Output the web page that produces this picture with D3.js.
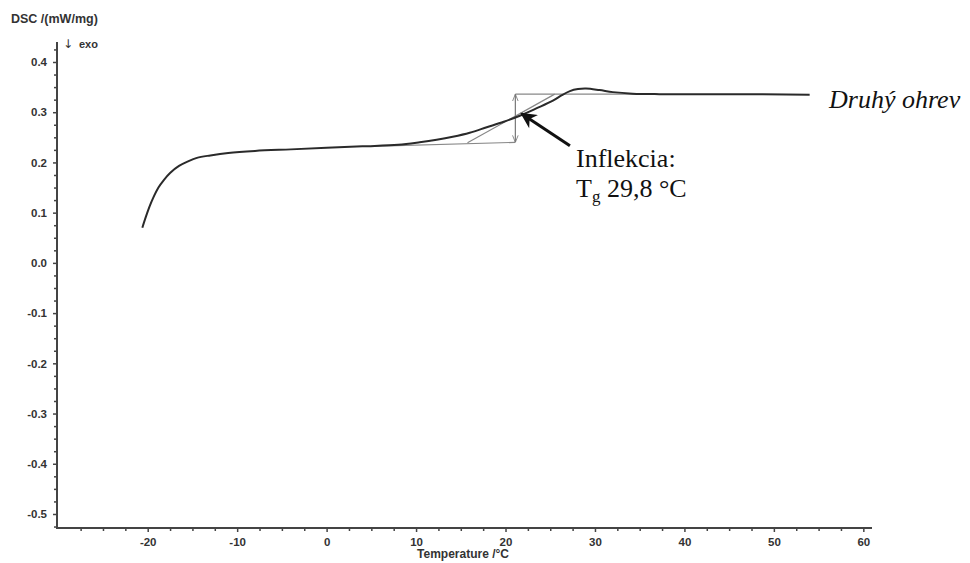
<!DOCTYPE html>
<html><head><meta charset="utf-8">
<script src="https://cdn.jsdelivr.net/npm/d3@7"></script>
<style>body{margin:0;background:#fff}svg{display:block}</style>
</head><body>
<script>
// Data
const temperature = [-20.6,-20.2,-19.8,-19.4,-18.8,-18.2,-17.5,-16.5,-15.5,-14.5,-13,-11,-8,-4,0,4,8,10.4,12.3,14.1,16,17.9,19.8,21.6,23.5,25.3,26.3,27.2,28.1,29,30.5,32,34.2,37.2,45,54];
const dsc =         [0.070,0.092,0.112,0.129,0.150,0.165,0.179,0.193,0.202,0.209,0.214,0.219,0.223,0.226,0.229,0.232,0.235,0.240,0.245,0.251,0.259,0.270,0.281,0.293,0.308,0.323,0.334,0.342,0.346,0.347,0.344,0.340,0.337,0.336,0.336,0.335];
const xTicks = [-20,-10,0,10,20,30,40,50,60];
const yTicks = [-0.5,-0.4,-0.3,-0.2,-0.1,0.0,0.1,0.2,0.3,0.4];
const lowerBaseline = [[5,0.232],[21.1,0.240]];
const upperBaseline = [[21.1,0.336],[37,0.336]];
const tangent = [[15.75,0.239],[25.5,0.336]];
const stepArrow = [[21.1,0.240],[21.1,0.336]];
const inflArrow = [[27.2,0.233],[21.8,0.297]];

const W=970,H=563;
const svg=d3.select("body").append("svg").attr("width",W).attr("height",H);
const x=d3.scaleLinear().domain([-30.14,60.97]).range([57,872]);
const y=d3.scaleLinear().domain([-0.5279,0.4398]).range([528,42]);
const hy=f=>v=>f(v).replace("\u2212","-");

const defs=svg.append("defs");
defs.append("marker").attr("id","ga").attr("viewBox","0 0 10 10").attr("refX",10).attr("refY",5)
 .attr("markerWidth",7).attr("markerHeight",7).attr("orient","auto-start-reverse").attr("markerUnits","userSpaceOnUse")
 .append("path").attr("d","M0,1 L10,5 L0,9").attr("fill","none").attr("stroke","#777").attr("stroke-width",1.2);
defs.append("marker").attr("id","ba").attr("viewBox","0 0 10 10").attr("refX",9).attr("refY",5)
 .attr("markerWidth",18).attr("markerHeight",16).attr("orient","auto").attr("markerUnits","userSpaceOnUse")
 .append("path").attr("d","M0,0 L10,5 L0,10 L3,5 Z").attr("fill","#111");

const axisColor="#444";
const sans="Liberation Sans, Arial, sans-serif";
// y axis minor ticks
const yMinor=d3.range(-0.525,0.4376,0.025).filter(v=>Math.abs(Math.round(v*10)-v*10)>0.01);
const yAxisG=svg.append("g").attr("transform","translate(57,0)");
yAxisG.call(d3.axisLeft(y).tickValues(yMinor).tickSize(3).tickFormat("")).call(g=>g.select(".domain").remove());
yAxisG.append("g").call(d3.axisLeft(y).tickValues(yTicks).tickSize(4).tickPadding(6).tickFormat(hy(d3.format(".1f"))))
 .call(g=>g.select(".domain").remove());
yAxisG.selectAll("line").attr("stroke",axisColor).attr("stroke-width",1.5);
yAxisG.selectAll("text").attr("font-family",sans).attr("font-size",11.5).attr("font-weight","bold").attr("fill","#333");
// x axis
const xMinor=d3.range(-27.5,60.1,2.5).filter(v=>v%10!==0);
const xAxisG=svg.append("g").attr("transform","translate(0,528)");
xAxisG.call(d3.axisBottom(x).tickValues(xMinor).tickSize(3).tickFormat("")).call(g=>g.select(".domain").remove());
xAxisG.append("g").call(d3.axisBottom(x).tickValues(xTicks).tickSize(4).tickPadding(6).tickFormat(hy(d3.format("d"))))
 .call(g=>g.select(".domain").remove());
xAxisG.selectAll("line").attr("stroke",axisColor).attr("stroke-width",1.5);
xAxisG.selectAll("text").attr("font-family",sans).attr("font-size",11.5).attr("font-weight","bold").attr("fill","#333");
// axis lines
svg.append("line").attr("x1",57).attr("x2",57).attr("y1",42).attr("y2",529).attr("stroke",axisColor).attr("stroke-width",2);
svg.append("line").attr("x1",56).attr("x2",872).attr("y1",528).attr("y2",528).attr("stroke",axisColor).attr("stroke-width",2);

// labels
svg.append("text").attr("x",11).attr("y",23).text("DSC /(mW/mg)")
 .attr("font-family",sans).attr("font-size",12.5).attr("font-weight","bold").attr("fill","#333");
svg.append("text").attr("x",63).attr("y",48).text("↓")
 .attr("font-family","DejaVu Sans, sans-serif").attr("font-size",12).attr("fill","#333");
svg.append("text").attr("x",79).attr("y",48).text("exo")
 .attr("font-family",sans).attr("font-size",11).attr("font-weight","bold").attr("fill","#333");
svg.append("text").attr("x",463).attr("y",558).attr("text-anchor","middle").text("Temperature /°C")
 .attr("font-family",sans).attr("font-size",12).attr("font-weight","bold").attr("fill","#333");

const line=d3.line().x(d=>x(d[0])).y(d=>y(d[1]));
// construction lines
const gray="#888";
svg.append("path").attr("d",line(lowerBaseline)).attr("stroke",gray).attr("stroke-width",1.2).attr("fill","none");
svg.append("path").attr("d",line(upperBaseline)).attr("stroke",gray).attr("stroke-width",1.2).attr("fill","none");
svg.append("path").attr("d",line(tangent)).attr("stroke",gray).attr("stroke-width",1.2).attr("fill","none");
svg.append("path").attr("d",line(stepArrow)).attr("stroke","#777").attr("stroke-width",1.2).attr("fill","none")
 .attr("marker-start","url(#ga)").attr("marker-end","url(#ga)");

// curve
const pts=temperature.map((t,i)=>[t,dsc[i]]);
svg.append("path").attr("d",d3.line().x(d=>x(d[0])).y(d=>y(d[1])).curve(d3.curveCatmullRom.alpha(0.5))(pts))
 .attr("fill","none").attr("stroke","#2a2a2a").attr("stroke-width",2);

// annotation arrow
svg.append("path").attr("d",line(inflArrow)).attr("stroke","#111").attr("stroke-width",3).attr("fill","none")
 .attr("marker-end","url(#ba)");

const serif="Liberation Serif, Times New Roman, serif";
svg.append("text").attr("x",576).attr("y",167).text("Inflekcia:")
 .attr("font-family",serif).attr("font-size",26).attr("fill","#111");
const tg=svg.append("text").attr("x",576).attr("y",197).attr("font-family",serif).attr("font-size",26).attr("fill","#111");
tg.append("tspan").text("T");
tg.append("tspan").attr("font-size",17).attr("dy",5).text("g");
tg.append("tspan").attr("dy",-5).text(" 29,8 °C");
svg.append("text").attr("x",829).attr("y",108).text("Druhý ohrev")
 .attr("font-family",serif).attr("font-style","italic").attr("font-size",26).attr("fill","#111");
</script>
</body></html>
